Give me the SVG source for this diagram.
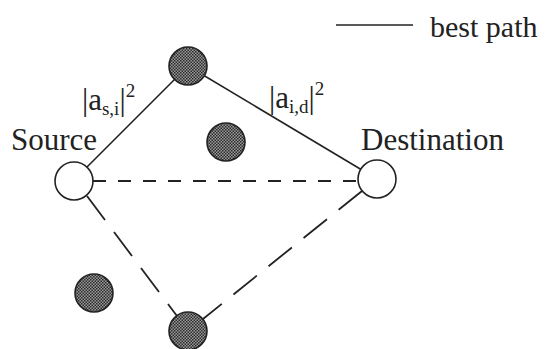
<svg xmlns="http://www.w3.org/2000/svg" width="547" height="349" viewBox="0 0 547 349">
<defs>
<pattern id="hatch" width="3" height="3" patternUnits="userSpaceOnUse">
<rect width="3" height="3" fill="#9a9a9a"/>
<rect x="0" y="0" width="1.5" height="1.5" fill="#2a2a2a"/>
<rect x="1.5" y="1.5" width="1.5" height="1.5" fill="#2a2a2a"/>
</pattern>
<style>
.lbl{font-family:"Liberation Serif","Times New Roman",serif;fill:#222;}
.relay{fill:url(#hatch);stroke:#222;stroke-width:1.6;}
.end{fill:#fff;stroke:#222;stroke-width:1.6;}
.best{stroke:#222;stroke-width:1.6;fill:none;}
.dh{stroke:#222;stroke-width:1.8;fill:none;stroke-dasharray:13 12;}
.dd{stroke:#222;stroke-width:1.8;fill:none;stroke-dasharray:30 15;}
</style>
</defs>
<rect width="547" height="349" fill="#fff"/>
<g id="connectors">
<line class="best" x1="74" y1="180" x2="188" y2="66"/>
<line class="best" x1="188" y1="66" x2="377" y2="179"/>
<line class="dh" x1="93" y1="181" x2="358" y2="181"/>
<line class="dd" x1="87" y1="196" x2="177" y2="316"/>
<line class="dd" x1="362" y1="191" x2="203" y2="319"/>
</g>
<g id="legend">
<line class="best" x1="336" y1="25" x2="413" y2="25"/>
<text class="lbl" x="430" y="37" font-size="30">best path</text>
</g>
<g id="relay-top"><circle class="relay" cx="188" cy="66" r="19"/></g>
<g id="relay-mid"><circle class="relay" cx="226" cy="142" r="19"/></g>
<g id="relay-left"><circle class="relay" cx="94" cy="293" r="19"/></g>
<g id="relay-bottom"><circle class="relay" cx="188" cy="331" r="19"/></g>
<g id="source">
<circle class="end" cx="74" cy="181" r="19"/>
<text class="lbl" x="11" y="150" font-size="31">Source</text>
</g>
<g id="destination">
<circle class="end" cx="377" cy="179" r="19"/>
<text class="lbl" x="361" y="150" font-size="31">Destination</text>
</g>
<g id="label-si">
<text class="lbl" x="82" y="110" font-size="31">|a<tspan font-size="19" dy="5">s,i</tspan><tspan dy="-5">|</tspan><tspan font-size="19" dy="-13">2</tspan></text>
</g>
<g id="label-id">
<text class="lbl" x="269" y="108" font-size="31">|a<tspan font-size="19" dy="5">i,d</tspan><tspan dy="-5">|</tspan><tspan font-size="19" dy="-13">2</tspan></text>
</g>
</svg>
